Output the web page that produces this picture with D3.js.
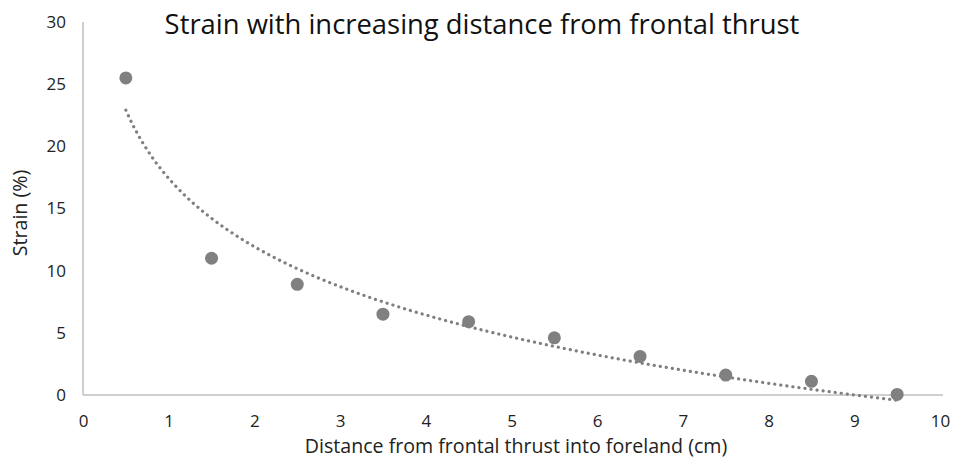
<!DOCTYPE html>
<html>
<head>
<meta charset="utf-8">
<script src="https://cdn.jsdelivr.net/npm/d3@7"></script>
<style>
  html, body { margin: 0; padding: 0; background: #fff; }
  svg { display: block; }
  text { font-family: "Open Sans", "Liberation Sans", sans-serif; fill: #222; }
</style>
</head>
<body>
<svg id="chart" width="953" height="466"></svg>
<script>
// Measured strain at each distance from the frontal thrust
const distance = [0.5, 1.5, 2.5, 3.5, 4.5, 5.5, 6.5, 7.5, 8.5, 9.5];
const strain = [25.5, 11, 8.9, 6.5, 5.9, 4.6, 3.1, 1.6, 1.1, 0.05];
const xTicks = [0, 1, 2, 3, 4, 5, 6, 7, 8, 9, 10];
const yTicks = [0, 5, 10, 15, 20, 25, 30];

const svg = d3.select("#chart");
const margin = { left: 83, right: 13, top: 22, bottom: 71 };
const W = 953, H = 466;

const x = d3.scaleLinear().domain([0, 10]).range([margin.left, 940]);
const y = d3.scaleLinear().domain([0, 30]).range([H - margin.bottom, margin.top]);

// Axis lines
svg.append("line")
  .attr("x1", x(0)).attr("x2", x(0))
  .attr("y1", y(30)).attr("y2", y(0))
  .attr("stroke", "#bfbfbf").attr("stroke-width", 1.5);
svg.append("line")
  .attr("x1", x(0)).attr("x2", 943)
  .attr("y1", y(0)).attr("y2", y(0))
  .attr("stroke", "#bfbfbf").attr("stroke-width", 1.5);

// Tick labels
const xAxis = d3.axisBottom(x).tickValues(xTicks).tickSize(0).tickPadding(20).tickFormat(d3.format("d"));
const gx = svg.append("g").attr("transform", `translate(0,${y(0)})`).call(xAxis);
gx.select(".domain").remove();
gx.selectAll("text").attr("font-size", 17).style("font-family", '"Open Sans", sans-serif').attr("fill", "#222");

const yAxis = d3.axisLeft(y).tickValues(yTicks).tickSize(0).tickPadding(17).tickFormat(d3.format("d"));
const gy = svg.append("g").attr("transform", `translate(${x(0)},0)`).call(yAxis);
gy.select(".domain").remove();
gy.selectAll("text").attr("font-size", 17).style("font-family", '"Open Sans", sans-serif').attr("fill", "#222");

// Logarithmic trendline: least-squares fit of strain against ln(distance)
const lx = distance.map(Math.log);
const mx = d3.mean(lx), my = d3.mean(strain);
const slope = d3.sum(lx, (v, i) => (v - mx) * (strain[i] - my)) / d3.sum(lx, v => (v - mx) * (v - mx));
const intercept = my - slope * mx;
const trendX = d3.range(0, 181).map(i => distance[0] + (distance[distance.length - 1] - distance[0]) * i / 180);
const line = d3.line().x(d => x(d)).y(d => y(intercept + slope * Math.log(d)));
svg.append("path")
  .datum(trendX)
  .attr("d", line)
  .attr("fill", "none")
  .attr("stroke", "#7f7f7f")
  .attr("stroke-width", 3.2)
  .attr("stroke-linecap", "round")
  .attr("stroke-dasharray", "0.1 6");

// Data points
svg.append("g").selectAll("circle")
  .data(distance)
  .join("circle")
  .attr("cx", d => x(d))
  .attr("cy", (d, i) => y(strain[i]))
  .attr("r", 6.5)
  .attr("fill", "#808080");

// Title and axis titles
svg.append("text")
  .attr("x", 482).attr("y", 34)
  .attr("text-anchor", "middle")
  .attr("font-size", 27.4)
  .style("fill", "#111")
  .text("Strain with increasing distance from frontal thrust");

svg.append("text")
  .attr("x", 516).attr("y", 453)
  .attr("text-anchor", "middle")
  .attr("font-size", 19.6)
  .text("Distance from frontal thrust into foreland (cm)");

svg.append("text")
  .attr("transform", "translate(27,213) rotate(-90)")
  .attr("text-anchor", "middle")
  .attr("font-size", 19.6)
  .text("Strain (%)");
</script>
</body>
</html>
